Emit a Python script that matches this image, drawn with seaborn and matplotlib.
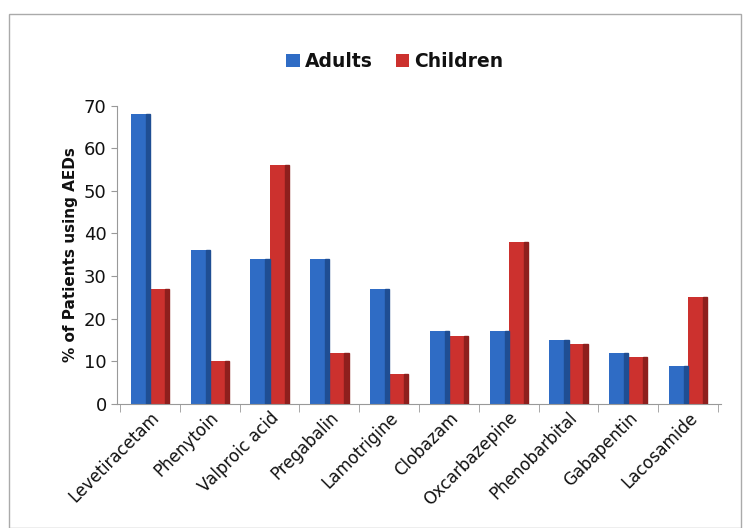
import pandas as pd
import seaborn as sns
import matplotlib.pyplot as plt
from matplotlib.patches import Rectangle

drugs = ["Levetiracetam", "Phenytoin", "Valproic acid", "Pregabalin", "Lamotrigine",
         "Clobazam", "Oxcarbazepine", "Phenobarbital", "Gabapentin", "Lacosamide"]
adults = [68, 36, 34, 34, 27, 17, 17, 15, 12, 9]
children = [27, 10, 56, 12, 7, 16, 38, 14, 11, 25]
groups = ["Adults", "Children"]
colors = ["#2F6CC5", "#CC312E"]

df = pd.DataFrame({"drug": drugs * 2,
                   "group": ["Adults"] * len(drugs) + ["Children"] * len(drugs),
                   "pct": adults + children})

sns.set_style("white")
plt.rcParams["font.family"] = ["DejaVu Sans"]

fig = plt.figure(figsize=(7.51, 5.28), dpi=100)
ax = fig.add_axes([0.156, 0.235, 0.804, 0.565])

sns.barplot(data=df, x="drug", y="pct", hue="group", hue_order=groups,
            palette=colors, saturation=1, width=0.64, ax=ax, edgecolor="none")

# darker right side for a bit of depth
for cont, c in zip(ax.containers, ["#1F4E93", "#8E1F1D"]):
    for bar in cont:
        x, w, h = bar.get_x(), bar.get_width(), bar.get_height()
        ax.add_patch(Rectangle((x + w * 0.78, 0), w * 0.22, h, color=c, zorder=3))

ax.set_ylim(0, 70)
ax.set_yticks(range(0, 71, 10))
ax.set_xlim(-0.55, len(drugs) - 0.45)
ax.set_xlabel("")
ax.set_ylabel("% of Patients using AEDs", fontsize=11, fontweight="bold", color="#111111")
ax.tick_params(axis="y", labelsize=13, left=True, length=4, color="#999999", labelcolor="#111111")
ax.tick_params(axis="x", labelsize=12, labelcolor="#111111")
plt.setp(ax.get_xticklabels(), rotation=45, ha="right", rotation_mode="anchor")
ax.set_xticks([i + 0.5 for i in range(-1, len(drugs))], minor=True)
ax.tick_params(axis="x", which="major", length=0)
ax.tick_params(axis="x", which="minor", length=6, color="#999999", bottom=True)
for s in ["top", "right"]:
    ax.spines[s].set_visible(False)
for s in ["left", "bottom"]:
    ax.spines[s].set_color("#999999")

leg = ax.legend(loc="lower center", bbox_to_anchor=(0.46, 1.06), ncol=2, frameon=False,
                prop={"weight": "bold", "size": 13.5}, handlelength=0.7, handleheight=0.7,
                columnspacing=1.2, handletextpad=0.3)
for t in leg.get_texts():
    t.set_color("#111111")

fig.patches.append(Rectangle((0.012, 0.0), 0.975, 0.973, transform=fig.transFigure,
                             fill=False, edgecolor="#AAAAAA", linewidth=1))

fig.savefig("out.png", dpi=100)
